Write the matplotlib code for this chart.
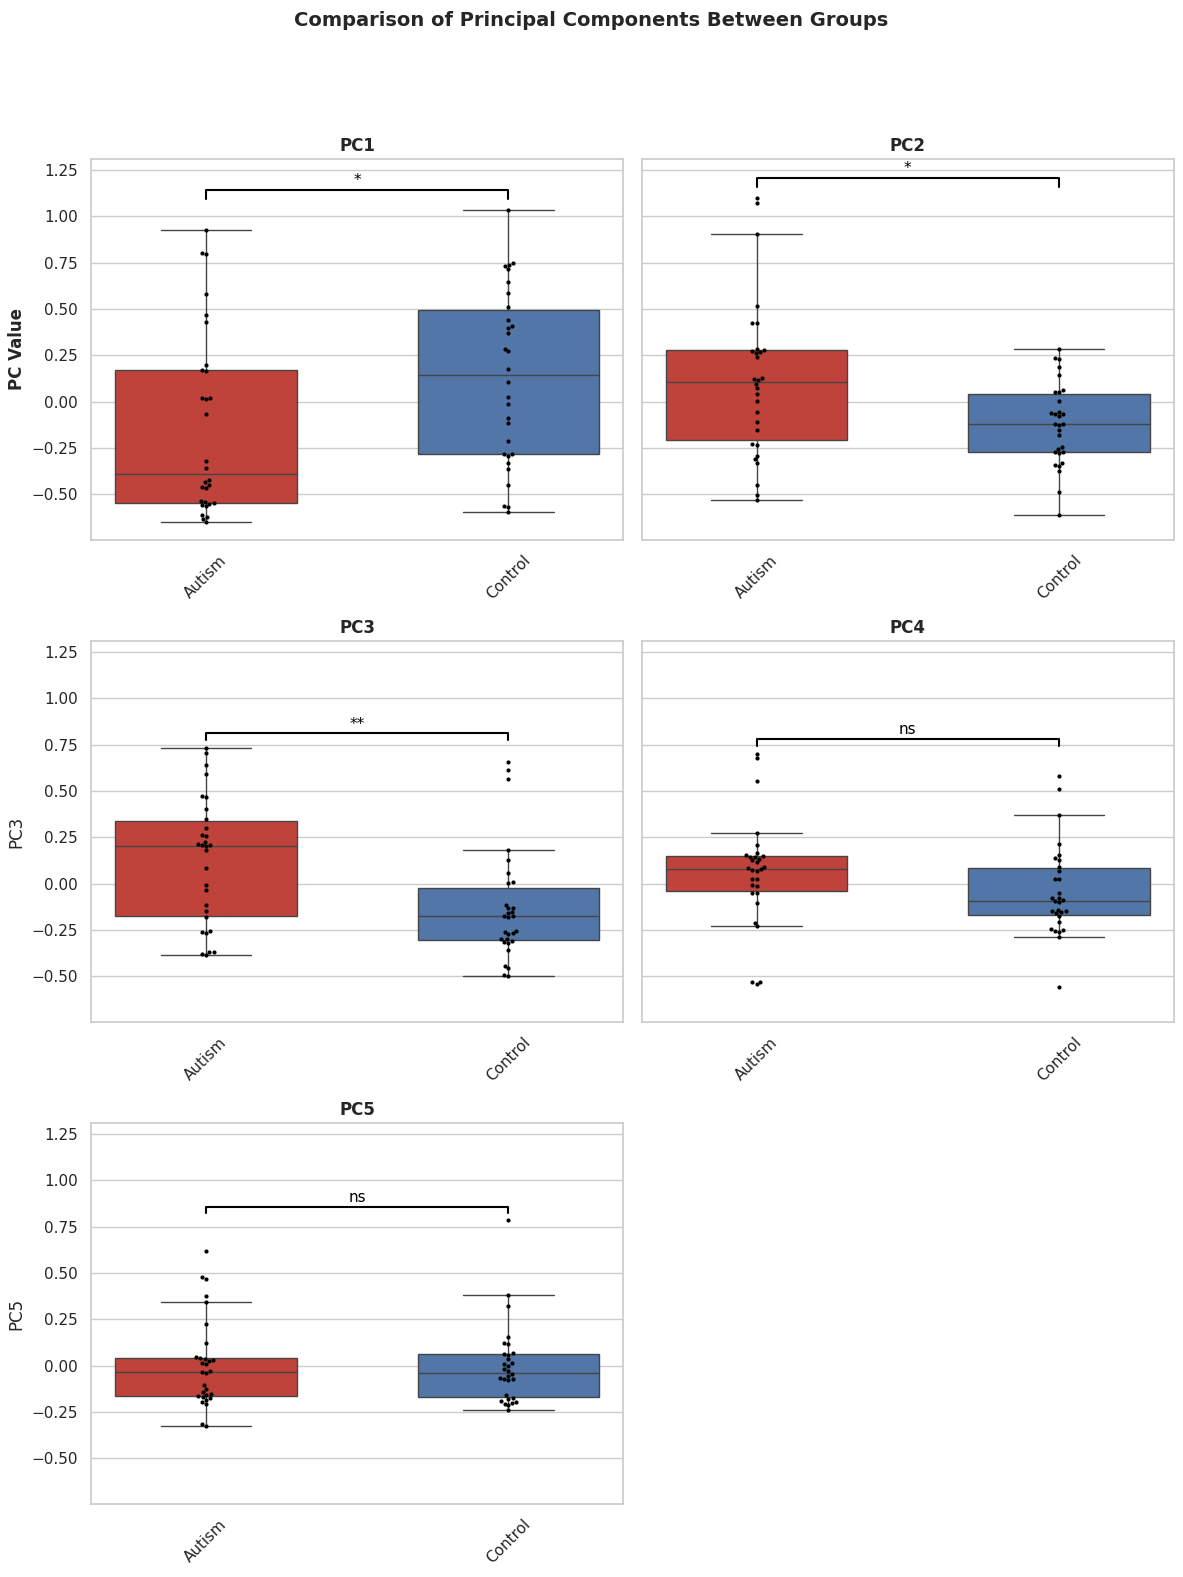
import matplotlib
matplotlib.use("Agg")
import matplotlib.pyplot as plt
import seaborn as sns
import pandas as pd

# ------------------------------------------------------------
# data (30 subjects per group)
# ------------------------------------------------------------
groups = ["Autism", "Control"]
components = ["PC1", "PC2", "PC3", "PC4", "PC5"]
sig_labels = ["*", "*", "**", "ns", "ns"]

pc1_autism = [0.926, 0.80, 0.795, 0.58, 0.465, 0.43, 0.197, 0.172, 0.163, 0.018,
              0.012, 0.020, -0.065, -0.318, -0.356, -0.424, -0.436, -0.449, -0.46, -0.467,
              -0.535, -0.54, -0.548, -0.55, -0.558, -0.565, -0.612, -0.621, -0.634, -0.652]
pc1_control = [1.034, 0.748, 0.739, 0.730, 0.716, 0.646, 0.587, 0.510, 0.442, 0.407,
               0.396, 0.372, 0.285, 0.271, 0.178, 0.108, 0.027, -0.011, -0.088, -0.113,
               -0.210, -0.280, -0.284, -0.293, -0.329, -0.366, -0.447, -0.565, -0.571, -0.598]

pc2_autism = [1.098, 1.071, 0.905, 0.517, 0.425, 0.425, 0.285, 0.28, 0.275, 0.27,
              0.262, 0.24, 0.129, 0.12, 0.115, 0.097, 0.075, 0.043, 0.005, -0.054,
              -0.108, -0.151, -0.226, -0.235, -0.295, -0.312, -0.332, -0.447, -0.501, -0.533]
pc2_control = [0.285, 0.237, 0.231, 0.188, 0.145, 0.064, 0.054, 0.054, 0.005, -0.054,
               -0.059, -0.065, -0.065, -0.077, -0.119, -0.12, -0.125, -0.151, -0.178, -0.242,
               -0.253, -0.27, -0.271, -0.275, -0.329, -0.343, -0.347, -0.375, -0.49, -0.609]

pc3_autism = [0.733, 0.704, 0.639, 0.591, 0.475, 0.466, 0.403, 0.349, 0.301, 0.262,
              0.256, 0.226, 0.215, 0.21, 0.206, 0.204, 0.181, 0.086, -0.005, -0.032,
              -0.116, -0.147, -0.181, -0.255, -0.26, -0.267, -0.367, -0.371, -0.38, -0.385]
pc3_control = [0.659, 0.613, 0.564, 0.183, 0.129, 0.059, 0.011, 0.005, -0.116, -0.129,
               -0.134, -0.152, -0.156, -0.174, -0.174, -0.178, -0.254, -0.26, -0.267, -0.272,
               -0.299, -0.30, -0.308, -0.317, -0.32, -0.36, -0.442, -0.457, -0.493, -0.496]

pc4_autism = [0.70, 0.677, 0.553, 0.274, 0.211, 0.165, 0.155, 0.148, 0.145, 0.143,
              0.135, 0.125, 0.118, 0.09, 0.083, 0.078, 0.075, 0.07, 0.023, 0.023,
              -0.009, -0.012, -0.048, -0.052, -0.102, -0.21, -0.23, -0.53, -0.532, -0.541]
pc4_control = [0.582, 0.51, 0.371, 0.215, 0.152, 0.138, 0.127, 0.091, 0.068, 0.027,
               0.027, -0.048, -0.075, -0.08, -0.088, -0.095, -0.1, -0.14, -0.145, -0.15,
               -0.155, -0.16, -0.174, -0.206, -0.245, -0.25, -0.255, -0.26, -0.287, -0.56]

pc5_autism = [0.618, 0.476, 0.469, 0.374, 0.345, 0.226, 0.124, 0.044, 0.04, 0.034,
              0.03, 0.025, 0.016, 0.007, -0.03, -0.034, -0.038, -0.106, -0.127, -0.145,
              -0.155, -0.16, -0.166, -0.17, -0.177, -0.184, -0.196, -0.208, -0.315, -0.328]
pc5_control = [0.784, 0.381, 0.322, 0.154, 0.124, 0.118, 0.066, 0.062, 0.058, 0.034,
               0.012, 0.007, 0.0, -0.02, -0.029, -0.047, -0.056, -0.065, -0.07, -0.074,
               -0.078, -0.16, -0.175, -0.178, -0.19, -0.196, -0.199, -0.205, -0.215, -0.239]

df = pd.DataFrame({
    "Group": ["Autism"] * 30 + ["Control"] * 30,
    "PC1": pc1_autism + pc1_control,
    "PC2": pc2_autism + pc2_control,
    "PC3": pc3_autism + pc3_control,
    "PC4": pc4_autism + pc4_control,
    "PC5": pc5_autism + pc5_control,
})

palette = {"Autism": "#C0433B", "Control": "#5176A7"}

# ------------------------------------------------------------
# plot
# ------------------------------------------------------------
sns.set_theme(style="whitegrid")
plt.rcParams["font.family"] = ["DejaVu Sans"]

fig, axes = plt.subplots(3, 2, figsize=(11.83, 15.77), dpi=100, sharey=True)
fig.subplots_adjust(left=0.0769, right=0.9924, bottom=0.0466, top=0.8989,
                    wspace=0.034, hspace=0.268)
axes = axes.flatten()

for i, pc in enumerate(components):
    ax = axes[i]
    sns.boxplot(data=df, x="Group", y=pc, hue="Group", palette=palette, order=groups,
                width=0.6, showfliers=False, saturation=1, linecolor="0.27",
                linewidth=1, legend=False, ax=ax)
    sns.swarmplot(data=df, x="Group", y=pc, order=groups, color="black", size=3, ax=ax)

    # significance bracket
    vals = df[pc]
    rng = vals.max() - vals.min()
    y_top = vals.max() + 0.065 * rng
    h = 0.03 * rng
    ax.plot([0, 0, 1, 1], [y_top - h, y_top, y_top, y_top - h], color="black", lw=1.5)
    ax.text(0.5, y_top + 0.008, sig_labels[i], ha="center", va="bottom", fontsize=11,
            color="black")

    ax.set_title(pc, fontsize=12, fontweight="bold")
    ax.set_xlabel("")
    ax.tick_params(axis="x", rotation=45)
    ax.set_xlim(-0.38, 1.38)

axes[0].set_ylabel("PC Value", fontsize=12, fontweight="bold")
axes[1].set_ylabel("")
axes[3].set_ylabel("")
axes[0].set_ylim(-0.744, 1.307)

fig.delaxes(axes[5])

fig.suptitle("Comparison of Principal Components Between Groups",
             fontsize=14, fontweight="bold", y=0.993)

plt.savefig("out.png", dpi=100)
